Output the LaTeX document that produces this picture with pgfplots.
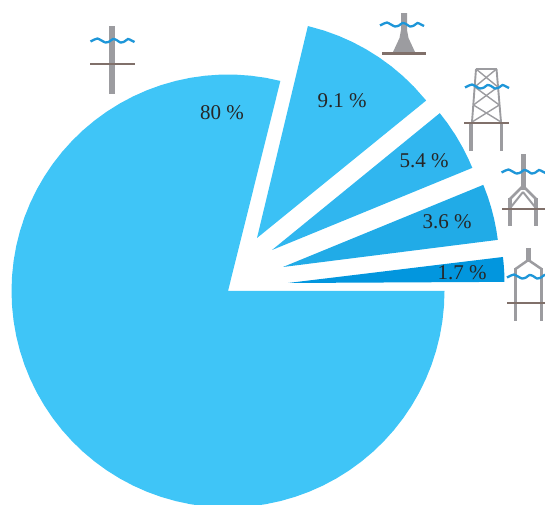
\documentclass[border=0pt]{standalone}
\usepackage{fontspec}
\setmainfont{Liberation Serif}
\usepackage{pgfplots}
\usepackage{pgfplotstable}
\pgfplotsset{compat=1.18}

\definecolor{wedgeA}{HTML}{3FC5F7}
\definecolor{wedgeB}{HTML}{3BC1F5}
\definecolor{wedgeC}{HTML}{30B6EF}
\definecolor{wedgeD}{HTML}{21ABE7}
\definecolor{wedgeE}{HTML}{0296DE}
\definecolor{towergrey}{HTML}{9C9CA0}
\definecolor{deckbrown}{HTML}{80706A}
\definecolor{waveblue}{HTML}{1E96D8}

% wave outline, x and y relative to its left end
\pgfplotstableread{
0 0.5
4 -1.5
7 -2.5
11 -0.5
15 1.5
19 0.5
22.5 -2
26 -1
30 1.5
34 0.5
37.5 -2
41 -0.5
44 1
}\wavedata

\newcommand{\wave}[2]{\addplot[waveblue,line width=2.3pt,smooth,xshift=#1pt,yshift=-#2pt] table {\wavedata};}
\newcommand{\deck}[3]{\addplot[deckbrown,line width=2.1pt] coordinates {(#1,#3) (#2,#3)};}
\newcommand{\pct}[3]{\node[font=\fontsize{21}{22}\selectfont,text=black!85] at (axis cs:#1,#2) {#3 \%};}

\pgfplotsset{
  px/.style={hide axis,scale only axis,width=545pt,height=504pt,
    xmin=0,xmax=545,ymin=0,ymax=504,anchor=south west,at={(0,0)}},
  grey/.style={towergrey,line width=#1},
  grey/.default=2.8pt,
}

\begin{document}
\begin{tikzpicture}
\useasboundingbox (0,0) rectangle (545pt,504pt);
% wedges: polar (angle, radius) about each wedge's own apex
\begin{axis}[px]
\addplot[fill=wedgeA,draw=none,data cs=polar,xshift=228pt,yshift=213pt] coordinates {
 (0,0) (76,216.5) (80,216.5) (84,216.5) (88,216.5) (92,216.5) (96,216.5) (100,216.5)
 (104,216.5) (108,216.5) (112,216.5) (116,216.5) (120,216.5) (124,216.5) (128,216.5)
 (132,216.5) (136,216.5) (140,216.5) (144,216.5) (148,216.5) (152,216.5) (156,216.5)
 (160,216.5) (164,216.5) (168,216.5) (172,216.5) (176,216.5) (180,216.5) (184,216.5)
 (188,216.5) (192,216.5) (196,216.5) (200,216.5) (204,216.5) (208,216.5) (212,216.5)
 (216,216.5) (220,216.5) (224,216.5) (228,216.5) (232,216.5) (236,216.5) (240,216.5)
 (244,216.5) (248,216.5) (252,216.5) (256,216.5) (260,216.5) (264,216.5) (268,216.5)
 (272,216.5) (276,216.5) (280,216.5) (284,216.5) (288,216.5) (292,216.5) (296,216.5)
 (300,216.5) (304,216.5) (308,216.5) (312,216.5) (316,216.5) (320,216.5) (324,216.5)
 (328,216.5) (332,216.5) (336,216.5) (340,216.5) (344,216.5) (348,216.5) (352,216.5)
 (356,216.5) (360,216.5) (0,0)
};
\addplot[fill=wedgeB,draw=none,data cs=polar,xshift=257pt,yshift=266pt] coordinates {
 (0,0) (76.5,218) (72,218) (68,218) (64,218) (60,218) (56,218) (52,218) (48,218) (44,218) (39.1,218) (0,0)
};
\addplot[fill=wedgeC,draw=none,data cs=polar,xshift=272pt,yshift=254pt] coordinates {
 (0,0) (39.2,216.5) (36,216.5) (32,216.5) (28,216.5) (25,216.5) (22.3,216.5) (0,0)
};
\addplot[fill=wedgeD,draw=none,data cs=polar,xshift=283pt,yshift=237pt] coordinates {
 (0,0) (22.3,216.5) (19,216.5) (16,216.5) (13,216.5) (10,216.5) (7.2,216.5) (0,0)
};
\addplot[fill=wedgeE,draw=none,data cs=polar,xshift=288pt,yshift=221pt] coordinates {
 (0,0) (6.9,216.5) (5,216.5) (3,216.5) (1.5,216.5) (0.3,216.5) (0,0)
};
\end{axis}

% labels and foundation icons, in image coordinates (y downwards)
\begin{axis}[px,y dir=reverse]
\pct{222}{113}{80}
\pct{342}{101}{9.1}
\pct{424}{161}{5.4}
\pct{447}{222}{3.6}
\pct{462}{273}{1.7}

% monopile
\addplot[grey=6pt] coordinates {(112.3,26) (112.3,94)};
\deck{90}{135}{64}
\wave{90.5}{41}

% gravity base
\addplot[fill=towergrey,draw=none] coordinates {(401,13) (407,13) (407,30) (408.5,38) (415,52) (393,52) (399.5,38) (401,30)};
\deck{382}{426}{53.5}
\wave{380}{25}

% jacket
\addplot[grey=1.9pt] coordinates {(476,69) (472,122)};
\addplot[grey=1.9pt] coordinates {(496.5,69) (501,122)};
\addplot[grey=1.4pt] coordinates {(476,69) (496.5,69)};
\addplot[grey=1.4pt] coordinates {(476,69) (497.9,87)};
\addplot[grey=1.4pt] coordinates {(496.5,69) (474.7,87)};
\addplot[grey=1.4pt] coordinates {(474.7,87) (499.3,105)};
\addplot[grey=1.4pt] coordinates {(497.9,87) (473.4,105)};
\addplot[grey=1.4pt] coordinates {(473.4,105) (501,122)};
\addplot[grey=1.4pt] coordinates {(499.3,105) (472,122)};
\addplot[grey=3.2pt] coordinates {(471,123) (471,151)};
\addplot[grey=3.2pt] coordinates {(501.5,123) (501.5,151)};
\deck{464}{509}{123}
\wave{465}{87}

% tripod
\addplot[grey=5pt] coordinates {(523.2,154) (523.2,190)};
\addplot[grey=2.5pt] coordinates {(523,186) (510,199)};
\addplot[grey=2.5pt] coordinates {(523,186) (536,199)};
\addplot[grey=2pt] coordinates {(523,192) (511,207)};
\addplot[grey=2pt] coordinates {(523,192) (535,207)};
\addplot[grey=3.2pt] coordinates {(510,198) (510,226)};
\addplot[grey=3.2pt] coordinates {(536,198) (536,226)};
\deck{502}{545}{208.7}
\wave{501.5}{172}

% tripile
\addplot[grey=4.8pt] coordinates {(528.3,248) (528.3,262)};
\addplot[grey=2.5pt] coordinates {(528.3,260) (515.5,269)};
\addplot[grey=2.5pt] coordinates {(528.3,260) (541.5,269)};
\addplot[grey=3.2pt] coordinates {(515.7,268) (515.7,321)};
\addplot[grey=3.2pt] coordinates {(541.7,268) (541.7,321)};
\deck{507}{545}{302.7}
\wave{507}{277}
\end{axis}
\end{tikzpicture}
\end{document}
